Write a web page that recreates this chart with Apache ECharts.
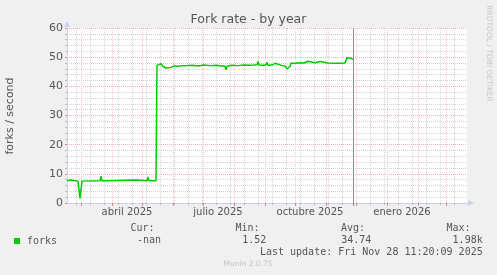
<!DOCTYPE html>
<html><head><meta charset="utf-8">
<script src="https://cdn.jsdelivr.net/npm/echarts@6/dist/echarts.min.js"></script>
<style>html,body{margin:0;padding:0;background:#f0f0f0}#c{width:497px;height:275px}</style>
</head><body><div id="c"></div>
<script>
// ---- data ----
const dates = ['2025-02-15','2025-02-19','2025-02-22','2025-02-26','2025-02-27','2025-02-28','2025-03-01','2025-03-02',
 '2025-03-20','2025-03-21','2025-03-22','2025-03-29','2025-03-30','2025-03-31','2025-04-15','2025-04-26','2025-04-28',
 '2025-05-06','2025-05-07','2025-05-08','2025-05-15',
 '2025-05-16','2025-05-18','2025-05-20','2025-05-22','2025-05-25','2025-05-27','2025-05-30','2025-06-02','2025-06-06',
 '2025-06-10','2025-06-12','2025-06-14','2025-06-20','2025-06-26','2025-07-02','2025-07-08','2025-07-14','2025-07-20',
 '2025-07-23','2025-07-24','2025-07-25','2025-07-30','2025-08-05','2025-08-11','2025-08-17','2025-08-21','2025-08-24',
 '2025-08-25','2025-08-26','2025-08-30','2025-09-02','2025-09-03','2025-09-04','2025-09-08','2025-09-11','2025-09-13',
 '2025-09-18','2025-09-21','2025-09-23','2025-09-24','2025-09-25','2025-09-26','2025-09-27','2025-09-28','2025-09-29',
 '2025-10-02','2025-10-06','2025-10-10','2025-10-14','2025-10-16','2025-10-21','2025-10-26','2025-10-28','2025-11-03',
 '2025-11-09','2025-11-15','2025-11-20','2025-11-21','2025-11-22','2025-11-24','2025-11-26','2025-11-28'];
const forks = [7.6,7.9,7.7,7.5,7.4,1.6,2.2,7.5,
 7.6,9.2,7.6,7.6,7.9,7.6,7.8,7.9,7.6,
 7.6,8.9,7.6,7.6,
 47.2,46.9,47.8,46.8,46.3,46.7,46.5,47.0,46.9,
 47.1,47.7,47.1,47.2,47.0,47.3,47.1,47.2,47.0,
 46.9,45.7,46.9,47.2,47.1,47.3,47.2,47.3,47.4,
 48.5,47.3,47.2,47.4,48.2,47.2,47.3,47.9,47.3,
 47.1,47.0,46.0,46.6,45.6,46.8,47.9,47.4,48.3,
 47.9,48.1,48.0,48.6,48.0,48.1,48.5,47.9,48.0,
 47.9,47.9,48.0,48.1,49.8,49.5,49.6,49.3];
const xMin = '2025-02-15', xMax = '2026-03-22';
const monthStarts = ['2025-03-01','2025-04-01','2025-05-01','2025-06-01','2025-07-01','2025-08-01','2025-09-01',
 '2025-10-01','2025-11-01','2025-12-01','2026-01-01','2026-02-01','2026-03-01'];
const minorStart = '2025-02-24'; // bi-weekly minor grid
const xLabelDates = ['2025-04-16','2025-07-16','2025-10-16','2026-01-16'];
const xLabels = ['abril 2025','julio 2025','octubre 2025','enero 2026'];
const yTicks = [0,10,20,30,40,50,60];
const nowTime = '2025-11-28T11:20:09';
const statHeaders = ['Cur:','Min:','Avg:','Max:'];
const statValues = ['-nan','1.52','34.74','1.98k'];
const seriesName = 'forks';
const titleText = 'Fork rate - by year';
const yName = 'forks / second';
const lastUpdate = 'Last update: Fri Nov 28 11:20:09 2025';
const footer = 'Munin 2.0.75';
const sideText = 'RRDTOOL / TOBI OETIKER';

// ---- build ----
const T = s => Date.parse(s.length === 10 ? s + 'T00:00:00Z' : s + 'Z');
const DAY = 86400000;
const minT = T(xMin), maxT = T(xMax);
const minorDates = [];
for (let d = T(minorStart); d < maxT; d += 14 * DAY) minorDates.push(d);
const labelMap = {};
xLabelDates.forEach((d, i) => labelMap[T(d)] = xLabels[i]);

const TXT = '#555';
const MONO = '"DejaVu Sans Mono", monospace';
const SANS = '"DejaVu Sans", sans-serif';
const RED = '#eeb4b4';
const REDV = '#f4cccc';
const GRAY = '#d4d4d4';
const AX = '#c8cff2';

const graphic = [
  {type:'text', style:{text:titleText, x:248.5, y:19.5, font:'12.5px ' + SANS, fill:TXT, align:'center', verticalAlign:'middle', textAlign:'center', textVerticalAlign:'middle'}},
  {type:'text', rotation:Math.PI/2, x:10, y:116, style:{text:yName, x:0, y:0, font:'11px ' + SANS, fill:TXT, align:'center', verticalAlign:'middle', textAlign:'center', textVerticalAlign:'middle'}},
  {type:'text', rotation:-Math.PI/2, x:488.5, y:53.5, style:{text:sideText, x:0, y:0, font:'7.5px ' + SANS, fill:'#c8c8c8', align:'center', verticalAlign:'middle', textAlign:'center', textVerticalAlign:'middle'}},
  {type:'text', style:{text:lastUpdate, x:482.7, y:252, font:'10px ' + MONO, fill:TXT, align:'right', verticalAlign:'middle', textAlign:'right', textVerticalAlign:'middle'}},
  {type:'text', style:{text:footer, x:248, y:264.5, font:'7.5px ' + SANS, fill:'#c4c4c4', align:'center', verticalAlign:'middle', textAlign:'center', textVerticalAlign:'middle'}}
];
const headX = [154.5, 259.5, 365, 470.5];
const valX = [161, 266.3, 371.3, 482.7];
statHeaders.forEach((h, i) => graphic.push({type:'text', style:{text:h, x:headX[i], y:228, font:'10px ' + MONO, fill:TXT, align:'right', verticalAlign:'middle', textAlign:'right', textVerticalAlign:'middle'}}));
statValues.forEach((v, i) => graphic.push({type:'text', style:{text:v, x:valX[i], y:240, font:'10px ' + MONO, fill:TXT, align:'right', verticalAlign:'middle', textAlign:'right', textVerticalAlign:'middle'}}));

const nowT = T(nowTime);
const chart = echarts.init(document.getElementById('c'), null, {renderer:'canvas'});
chart.setOption({
  animation:false,
  backgroundColor:'#f0f0f0',
  grid:{left:67, top:28, width:400, height:175, show:true, backgroundColor:'#ffffff', borderWidth:0},
  legend:{data:[seriesName], left:9, top:231, icon:'rect', itemWidth:6, itemHeight:6, itemGap:0,
    textStyle:{fontFamily:MONO, fontSize:10, color:TXT, padding:[0,0,0,2]}},
  xAxis:[
    {type:'value', min:minT, max:maxT, gridIndex:0, position:'bottom',
     axisLine:{show:false},
     axisTick:{show:true, customValues:minorDates, length:2, lineStyle:{color:'#bbb'}},
     axisLabel:{show:false},
     splitLine:{show:true, lineStyle:{color:GRAY, type:[1,1], width:1}}},
    {type:'value', min:minT, max:maxT, gridIndex:0, position:'bottom',
     axisLine:{show:true, lineStyle:{color:AX, width:1}, symbol:['none','triangle'], symbolSize:[6,6], symbolOffset:[0,4]},
     axisTick:{show:true, customValues:monthStarts.map(T), length:3, lineStyle:{color:'#e48080'}},
     axisLabel:{show:true, customValues:xLabelDates.map(T), margin:4, fontFamily:SANS, fontSize:10, color:TXT,
       formatter:v => labelMap[v] || ''},
     splitLine:{show:true, lineStyle:{color:REDV, type:[1,1], width:1}}}
  ],
  yAxis:{type:'value', min:yTicks[0], max:yTicks[yTicks.length-1], interval:10,
    axisLine:{show:true, lineStyle:{color:AX}, symbol:['none','triangle'], symbolSize:[6,6], symbolOffset:[0,4]},
    axisTick:{show:true, length:2, lineStyle:{color:'#e48080'}},
    minorTick:{show:true, splitNumber:5, length:2, lineStyle:{color:'#bbb'}},
    axisLabel:{margin:4, fontFamily:SANS, fontSize:11, color:TXT},
    splitLine:{show:true, lineStyle:{color:RED, type:[1,1]}},
    minorSplitLine:{show:true, lineStyle:{color:GRAY, type:[1,1]}}},
  series:[{
    name:'now', type:'line', xAxisIndex:1, showSymbol:false, symbol:'none', clip:false, silent:true,
    color:'#8c8c8c', lineStyle:{color:'#8c8c8c', width:1}, z:4,
    data:[[nowT, -1], [nowT, yTicks[yTicks.length-1]]]
  }, {
    name:seriesName, type:'line', xAxisIndex:1, showSymbol:false, symbol:'none',
    color:'#00cc00', lineStyle:{color:'#00cc00', width:1.5}, z:5,
    data:dates.map((d, i) => [T(d), forks[i]])
  }],
  graphic:graphic
});
</script></body></html>
